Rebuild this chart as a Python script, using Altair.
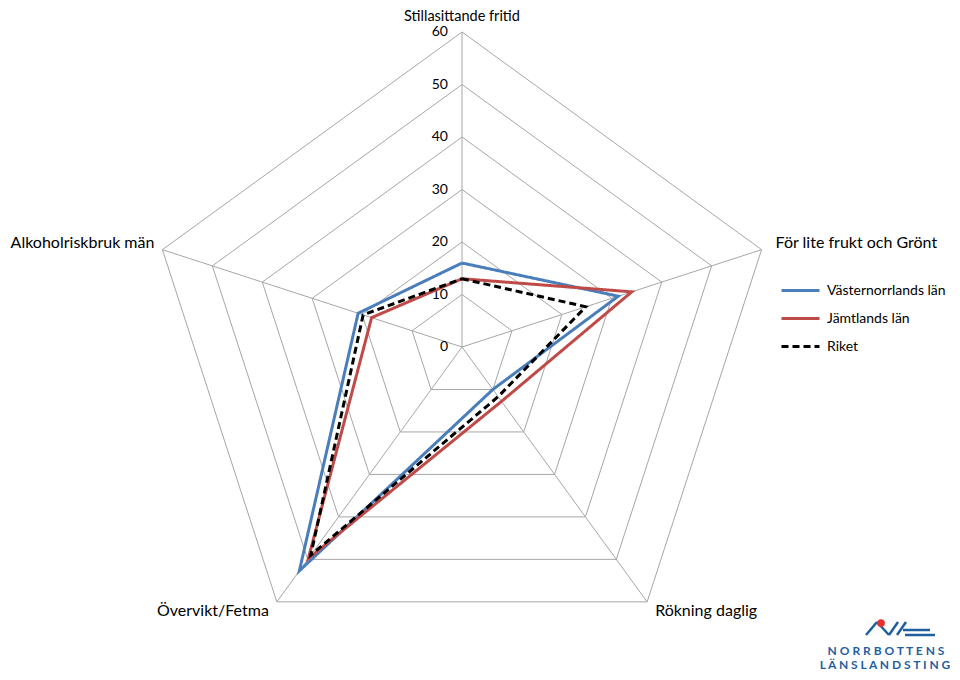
import altair as alt
import pandas as pd

axes = ["Stillasittande fritid", "För lite frukt och Grönt", "Rökning daglig",
        "Övervikt/Fetma", "Alkoholriskbruk män"]
series = ["Västernorrlands län", "Jämtlands län", "Riket"]
vasternorrland = [16, 31.3, 10, 52.7, 20.8]
jamtland = [13, 34, 12.8, 49.8, 18.1]
riket = [13, 24.8, 11.7, 49, 19.8]
ticks = [0, 10, 20, 30, 40, 50, 60]
colors = ["#4A7EBB", "#BE4B48", "#000000"]
dashes = [[1, 0], [1, 0], [7, 4]]

N = len(axes)
FONT = "Lato"

rows = []
for name, vals in zip(series, [vasternorrland, jamtland, riket]):
    for k in range(N + 1):
        i = k % N
        rows.append({"series": name, "axis": axes[i], "i": i, "k": k, "value": vals[i]})
df = pd.DataFrame(rows)

grid = pd.DataFrame([{"level": t, "i": k % N, "k": k} for t in ticks[1:] for k in range(N + 1)])
axes_df = pd.DataFrame({"axis": axes, "i": list(range(N)), "value": [ticks[-1]] * N})
ticks_df = pd.DataFrame({"tick": ticks})

W, H = 944, 664
CX, CY = 454, 339          # centre of the web in plot pixels
PX = 5.25                   # pixels per unit
xs = alt.Scale(domain=[-CX / PX, (W - CX) / PX], nice=False, zero=False)
ys = alt.Scale(domain=[-(H - CY) / PX, CY / PX], nice=False, zero=False)

ANG = f"PI/2 - datum.i*2*PI/{N}"


def polar(chart, rfield, xn="px", yn="py"):
    return (chart.transform_calculate(a=ANG)
                 .transform_calculate(**{xn: f"datum.{rfield}*cos(datum.a)"})
                 .transform_calculate(**{yn: f"datum.{rfield}*sin(datum.a)"}))


grid_layer = polar(alt.Chart(grid), "level").mark_line(
    color="#A6A6A6", strokeWidth=1).encode(
    x=alt.X("px:Q", scale=xs, axis=None),
    y=alt.Y("py:Q", scale=ys, axis=None),
    detail="level:N", order="k:Q")

spokes = polar(alt.Chart(axes_df), "value").transform_calculate(ox="0", oy="0").mark_rule(
    color="#A6A6A6", strokeWidth=1).encode(
    x=alt.X("ox:Q", scale=xs, axis=None),
    y=alt.Y("oy:Q", scale=ys, axis=None),
    x2="px:Q", y2="py:Q")

tick_labels = alt.Chart(ticks_df).transform_calculate(zx="0").mark_text(
    align="right", baseline="middle", dx=-14, font=FONT, fontSize=14, color="#000000").encode(
    x=alt.X("zx:Q", scale=xs, axis=None),
    y=alt.Y("tick:Q", scale=ys, axis=None),
    text="tick:Q")

legend = alt.Legend(title=None, orient="none", legendX=772, legendY=262,
                    symbolType="stroke", symbolSize=1444, symbolStrokeWidth=3,
                    labelFont=FONT, labelFontSize=14, labelColor="#000000",
                    labelOffset=6, rowPadding=-11, padding=0)

series_layers = []
for name in series:
    series_layers.append(
        polar(alt.Chart(df).transform_filter(alt.datum.series == name), "value")
        .mark_line(strokeWidth=3, strokeJoin="miter")
        .encode(
            x=alt.X("px:Q", scale=xs, axis=None),
            y=alt.Y("py:Q", scale=ys, axis=None),
            color=alt.Color("series:N", scale=alt.Scale(domain=series, range=colors), legend=legend),
            strokeDash=alt.StrokeDash("series:N", scale=alt.Scale(domain=series, range=dashes), legend=legend),
            order="k:Q"))

label_specs = [(0, "center", "top", 0, -22, 14.5), (1, "left", "middle", 14, -7, 16),
               (2, "left", "middle", 8, 9, 16), (3, "right", "middle", -8, 9, 16),
               (4, "right", "middle", -8, -7, 16)]
label_layers = []
for i, align, base, dx, dy, fs in label_specs:
    label_layers.append(
        polar(alt.Chart(axes_df).transform_filter(alt.datum.i == i), "value")
        .mark_text(align=align, baseline=base, dx=dx, dy=dy, font=FONT, fontSize=fs, color="#000000")
        .encode(x=alt.X("px:Q", scale=xs, axis=None),
                y=alt.Y("py:Q", scale=ys, axis=None),
                text="axis:N"))

# Decorative logo (bottom right)
LOGO = "#1F5FA0"
logo_text1 = alt.Chart(pd.DataFrame({"t": ["N O R R B O T T E N S"]})).mark_text(
    font=FONT, fontSize=12, fontWeight="bold", color=LOGO, align="center", baseline="middle").encode(
    x=alt.value(878), y=alt.value(643), text="t:N")
logo_text2 = alt.Chart(pd.DataFrame({"t": ["L Ä N S   L A N D S T I N G"]})).mark_text(
    font=FONT, fontSize=12, fontWeight="bold", color=LOGO, align="center", baseline="middle").encode(
    x=alt.value(877), y=alt.value(657), text="t:N")

seg = [(858, 627, 869, 614), (869, 614, 881, 627), (881, 627, 890, 614),
       (889, 627, 898, 614), (895, 622, 922, 622), (897, 627, 927, 627)]
logo_rules = [alt.Chart(pd.DataFrame({"d": [0]})).mark_rule(color=LOGO, strokeWidth=2.5).encode(
    x=alt.value(a), y=alt.value(b), x2=alt.value(c), y2=alt.value(d)) for a, b, c, d in seg]
logo_dot = alt.Chart(pd.DataFrame({"d": [0]})).mark_circle(color="#E8312F", opacity=1, size=60).encode(
    x=alt.value(873), y=alt.value(615))

chart = alt.layer(grid_layer, spokes, tick_labels, *series_layers, *label_layers,
                  logo_text1, logo_text2, *logo_rules, logo_dot).properties(
    width=W, height=H, padding=0, autosize="none").configure_view(stroke=None)

chart.save("out.html", embed_options={"renderer": "svg", "actions": False})
